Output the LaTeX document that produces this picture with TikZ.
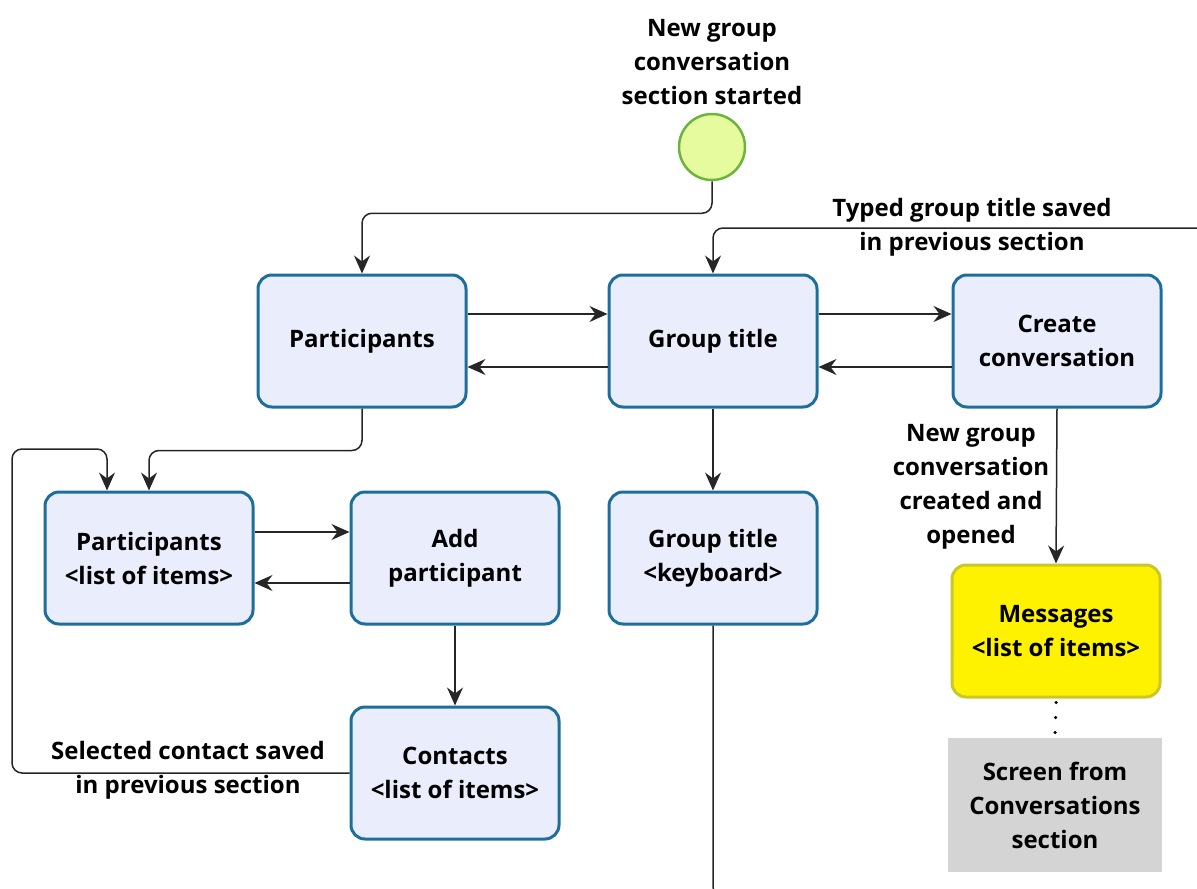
\documentclass[tikz,border=0pt]{standalone}
\usepackage{fontspec}
\setmainfont{Open Sans}
\usetikzlibrary{arrows.meta}
\definecolor{boxblue}{HTML}{1E6E9C}
\definecolor{boxfill}{HTML}{E9EDFC}
\definecolor{startfill}{HTML}{E5FB9E}
\definecolor{startline}{HTML}{6DB33F}
\definecolor{msgline}{HTML}{C9C72A}
\definecolor{scrfill}{HTML}{D4D4D4}
\definecolor{wire}{HTML}{262626}
\begin{document}
\begin{tikzpicture}[x=1pt,y=-1pt,
  txt/.style={font=\bfseries\fontsize{24}{34}\selectfont, align=center},
  screen/.style={txt, draw=boxblue, line width=3pt, fill=boxfill,
    rounded corners=14pt, minimum width=208pt, minimum height=132pt, inner sep=0pt},
  msgbox/.style={screen, draw=msgline, fill=yellow},
  extbox/.style={txt, fill=scrfill, minimum width=214pt, minimum height=134pt, inner sep=0pt},
  lbl/.style={txt, inner sep=0pt},
  wireline/.style={draw=wire, line width=1.5pt, rounded corners=10pt},
  flow/.style={wireline, -{Stealth[length=18pt,width=16pt,inset=6pt]}}
]
\useasboundingbox (0,0) rectangle (1197,889);

% start event and its caption
\node[circle, draw=startline, fill=startfill, line width=2.5pt,
  minimum size=66pt, inner sep=0pt] (start) at (712,147) {};
\node[lbl] (startcap) at (712,62) {New group\\conversation\\section started};

% screens
\node[screen] (part) at (362,341) {Participants};
\node[screen] (gt) at (713,341) {Group title};
\node[screen] (create) at (1057,341) {Create\\conversation};
\node[screen] (plist) at (149,558) {Participants\\<list of items>};
\node[screen] (add) at (455,558) {Add\\participant};
\node[screen] (gtk) at (713,558) {Group title\\<keyboard>};
\node[screen] (contacts) at (455,773) {Contacts\\<list of items>};
\node[msgbox] (msg) at (1056,631) {Messages\\<list of items>};
\node[extbox] (scr) at (1055,805) {Screen from\\Conversations\\section};

% free ends of connectors
\coordinate (titlein) at (1200,228);
\coordinate (loopc) at (12,449);
\coordinate (gtkout) at (760,897);

% connectors
\draw[flow] (start.south) -- ++(0,32) -| (part.north);
\draw[flow] (titlein) -| (gt.north);
\draw[flow] ([yshift=27pt]part.east) -- ([yshift=27pt]gt.west);
\draw[flow] ([yshift=-26pt]gt.west) -- ([yshift=-26pt]part.east);
\draw[flow] ([yshift=27pt]gt.east) -- ([yshift=27pt]create.west);
\draw[flow] ([yshift=-26pt]create.west) -- ([yshift=-26pt]gt.east);
\draw[flow] (create.south) -- (msg.north);
\draw[flow] (gt.south) -- (gtk.north);
\draw[flow] (part.south) -- ++(0,42) -| (plist.north);
\draw[flow] (contacts.west) -| (loopc) -| ([xshift=-42pt]plist.north);
\draw[flow] ([yshift=26pt]plist.east) -- ([yshift=26pt]add.west);
\draw[flow] ([yshift=-25pt]add.west) -- ([yshift=-25pt]plist.east);
\draw[flow] (add.south) -- (contacts.north);
\draw[wireline] (gtk.south) |- (gtkout);
\draw[draw=black, line width=3.5pt, line cap=round, dash pattern=on 0pt off 15pt]
  ([yshift=-4pt]msg.south) -- (scr.north);

% connector captions
\node[lbl] (titlecap) at (972,227) {Typed group title saved\\in previous section};
\node[lbl] (createcap) at (971,487) {New group\\conversation\\created and\\opened};
\node[lbl] (contactcap) at (188,770) {Selected contact saved\\in previous section};
\end{tikzpicture}
\end{document}
